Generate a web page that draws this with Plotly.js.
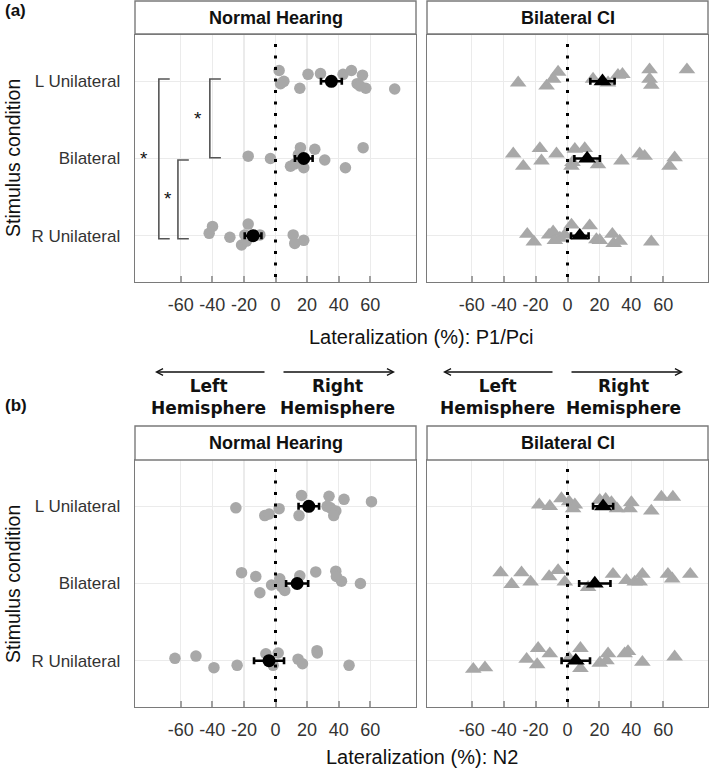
<!DOCTYPE html>
<html>
<head>
<meta charset="utf-8">
<script src="https://cdn.plot.ly/plotly-3.0.1.min.js"></script>
<style>html,body{margin:0;padding:0;background:#fff;}#chart{width:709px;height:768px;}</style>
</head>
<body>
<div id="chart"></div>
<script>
// ---- categories & tick labels ----
const conditions = ['R Unilateral', 'Bilateral', 'L Unilateral']; // y = 1,2,3
const xTickVals = [-60, -40, -20, 0, 20, 40, 60];
const xTickText = ['-60', '-40', '-20', '0', '20', '40', '60'];
const panels = ['Normal Hearing', 'Bilateral CI'];

// ---- individual subjects: [lateralization %, vertical jitter] ----
// P1/Pci, Normal Hearing
const p1NH_L = [[2.3,0.14],[5.3,0],[3.2,-0.03],[15.4,-0.09],[20.6,0.09],[28.5,0.10],[42.8,0.09],[48.1,0.14],[55.1,0.08],[51.7,-0.03],[57.2,-0.09],[53.5,-0.06],[75.5,-0.10]];
const p1NH_B = [[-17.3,0.03],[-3.2,0],[15.8,0.14],[24.9,0.12],[9.5,-0.10],[12.2,-0.07],[17.9,-0.12],[31.2,-0.02],[44.3,-0.12],[55.5,0.14],[14.5,0.05]];
const p1NH_R = [[-39.9,0.12],[-42,0.03],[-28.9,-0.02],[-17.3,0.15],[-19.4,0.01],[-21.5,-0.12],[-18.4,-0.07],[-9.9,0.01],[11.2,0.01],[12.2,-0.10],[17.9,-0.06]];
// P1/Pci, Bilateral CI
const p1CI_L = [[-30.9,-0.02],[-13.1,-0.06],[-9,0.03],[-5.9,0.12],[16,0.03],[25.4,-0.02],[31.6,0.08],[34.4,0.09],[51.4,0.15],[51.4,0.03],[52.5,-0.05],[74.8,0.15]];
const p1CI_B = [[-34,0.06],[-27.7,-0.10],[-17.3,0.13],[-16.3,-0.03],[-6.9,0.06],[4.6,0.12],[2.5,-0.10],[3.1,-0.05],[10.8,0.13],[19.1,-0.08],[33.8,-0.03],[45.2,0.06],[48.3,0.03],[67.1,0.01],[63.9,-0.10]];
const p1CI_R = [[-25.2,0.02],[-21.1,-0.08],[-11.5,0.01],[-9,0.05],[-7.9,-0.06],[-4.8,-0.03],[-1.7,0.01],[2.5,0.14],[13.9,0.13],[18.1,-0.05],[20.2,-0.06],[28.1,0.02],[28.9,-0.10],[32.7,-0.07],[52.5,-0.08]];
// N2, Normal Hearing
const n2NH_L = [[-25.1,-0.02],[-6.8,-0.12],[-4,-0.10],[2.3,-0.03],[16.5,0.14],[14.9,-0.12],[33.9,0.13],[32.7,0],[34.8,-0.02],[38.2,-0.06],[36.9,-0.12],[43.4,0.09],[60.8,0.06]];
const n2NH_B = [[-21.5,0.14],[-12.5,0.09],[-9.9,-0.12],[-2.5,-0.02],[2.7,0.06],[5.9,-0.09],[3.8,-0.04],[15.4,0.10],[25.5,0.15],[38.2,0.16],[38.6,0.09],[41.8,0.03],[53.8,0]];
const n2NH_R = [[-63.7,0.03],[-50.4,0.06],[-39,-0.09],[-24.3,-0.06],[-6.1,0.09],[-1.5,-0.06],[1.7,0.10],[14.3,0.02],[17.1,-0.04],[26.3,0.13],[26.5,0.10],[46.6,-0.06]];
// N2, Bilateral CI
const n2CI_L = [[-17.7,0.02],[-11.1,0],[-3.8,0.10],[1,0.06],[4.6,0.02],[3.5,-0.03],[20.2,0.08],[23.9,0.09],[27.5,0.05],[31,-0.03],[38.9,-0.03],[40,0.05],[52.5,-0.06],[58.8,0.12],[66,0.12]];
const n2CI_B = [[-41.9,0.14],[-35,-0.01],[-28.8,0.14],[-23.1,0.02],[-11.5,0.09],[-5.9,0.17],[-1.7,0.02],[12.9,-0.05],[28.5,0.12],[36.9,0.04],[42.1,0.02],[45.2,0.02],[46.9,0.12],[62.9,0.12],[65.6,0.06],[76.9,0.12]];
const n2CI_R = [[-59,-0.11],[-51.7,-0.09],[-25.6,0.02],[-18.4,0.16],[-19,-0.05],[-11.1,0.09],[1,0.03],[8.1,0.16],[8.1,-0.10],[20.2,-0.03],[25.4,0.09],[24.4,0],[35.8,0.09],[37.9,0.12],[46.9,-0.02],[67.1,0.05]];

// ---- group means and standard errors (order: R Unilateral, Bilateral, L Unilateral) ----
const p1NH_mean = [-14.2, 17.9, 35.4], p1NH_se = [5.3, 5.6, 6.6];
const p1CI_mean = [7.7, 12.3, 21.9],   p1CI_se = [5.5, 8.0, 7.6];
const n2NH_mean = [-4.1, 13.7, 21.1],  n2NH_se = [9.5, 7.0, 6.5];
const n2CI_mean = [5.2, 17.1, 22.3],   n2CI_se = [8.9, 9.8, 6.3];

// ---- build traces ----
const traces = [];
function addPanel(rows, means, ses, xa, ya, symbol) {
  const xs = [], ys = [];
  rows.forEach((row, i) => {
    row.forEach(p => { xs.push(p[0]); ys.push(i + 1 + p[1]); });
  });
  const tri = symbol !== 'circle';
  traces.push({
    type: 'scatter', mode: 'markers', x: xs, y: ys, xaxis: xa, yaxis: ya,
    marker: {symbol: symbol, size: tri ? 14.5 : 11.5, color: '#a8a8a8', line: {width: 0}},
    hoverinfo: 'x', showlegend: false
  });
  traces.push({
    type: 'scatter', mode: 'markers', x: means, y: [1, 2, 3], xaxis: xa, yaxis: ya,
    marker: {symbol: symbol, size: tri ? 15.5 : 13, color: '#000', line: {width: 0}},
    error_x: {type: 'data', array: ses, visible: true, color: '#000', thickness: 2.6, width: 3.5},
    hoverinfo: 'x', showlegend: false
  });
}
addPanel([p1NH_R, p1NH_B, p1NH_L], p1NH_mean, p1NH_se, 'x', 'y', 'circle');
addPanel([p1CI_R, p1CI_B, p1CI_L], p1CI_mean, p1CI_se, 'x2', 'y2', 'triangle-up');
addPanel([n2NH_R, n2NH_B, n2NH_L], n2NH_mean, n2NH_se, 'x3', 'y3', 'circle');
addPanel([n2CI_R, n2CI_B, n2CI_L], n2CI_mean, n2CI_se, 'x4', 'y4', 'triangle-up');

// ---- layout helpers ----
const W = 709, H = 768;
const px = v => v / W, py = v => 1 - v / H;
const FONT = 'Liberation Sans, Arial, sans-serif';
const BORDER = '#7a7a7a';

function xAxis(domain, anchor, range) {
  return {
    domain: domain, anchor: anchor, range: range, tickvals: xTickVals, ticktext: xTickText,
    showgrid: true, gridcolor: '#ebebeb', gridwidth: 1.2, zeroline: false,
    showline: true, linecolor: BORDER, linewidth: 1.4, mirror: true,
    ticks: 'inside', ticklen: 6, tickwidth: 2, tickcolor: '#a0a0a0',
    ticklabelstandoff: 6, tickfont: {family: FONT, size: 18, color: '#333'}, fixedrange: true
  };
}
function yAxis(domain, anchor, labels) {
  return {
    domain: domain, anchor: anchor, range: [0.4, 3.6], tickvals: [1, 2, 3], ticktext: conditions,
    showticklabels: labels, showgrid: true, gridcolor: '#ebebeb', gridwidth: 1.2, zeroline: false,
    showline: true, linecolor: BORDER, linewidth: 1.4, mirror: true, ticks: '',
    ticklabelstandoff: 10, tickfont: {family: FONT, size: 17, color: '#333'}, fixedrange: true
  };
}
const xdNH = [px(135), px(416)], xdCI = [px(427), px(708)];
const ydTop = [py(282), py(35)], ydBot = [py(707), py(460)];

const shapes = [];
// strips
[[135, 416, 1, 34], [427, 708, 1, 34], [135, 416, 426, 460], [427, 708, 426, 460]].forEach(s => {
  shapes.push({type: 'rect', xref: 'paper', yref: 'paper', x0: px(s[0]), x1: px(s[1]), y0: py(s[3]), y1: py(s[2]),
    fillcolor: '#fff', line: {color: BORDER, width: 1.4}});
});
// dotted zero lines
[['x', 'y'], ['x2', 'y2'], ['x3', 'y3'], ['x4', 'y4']].forEach(a => {
  shapes.push({type: 'line', xref: a[0], yref: a[1] + ' domain', x0: 0, x1: 0, y0: 0.02, y1: 0.98,
    line: {color: '#000', width: 3, dash: '3px,8.5px'}, layer: 'above'});
});
// significance brackets (top NH panel)
[[-41.6, -34.6, 3.03, 2.01], [-61.8, -54.9, 1.98, 0.96], [-73.9, -67.0, 3.03, 0.96]].forEach(b => {
  shapes.push({type: 'path', xref: 'x', yref: 'y',
    path: `M${b[1]},${b[2]} H${b[0]} V${b[3]} H${b[1]}`, line: {color: '#555', width: 1.6}});
});

const ann = [];
const addText = (text, x, y, size, opts) => ann.push(Object.assign({text: text, x: x, y: y, xref: 'paper', yref: 'paper',
  xanchor: 'center', yanchor: 'middle', showarrow: false, font: {family: FONT, size: size, color: '#111'}}, opts || {}));
addText('<b>(a)</b>', px(3), py(11), 17, {xanchor: 'left'});
addText('<b>(b)</b>', px(3), py(405), 17, {xanchor: 'left'});
addText('<b>' + panels[0] + '</b>', px(275.5), py(17.5), 18);
addText('<b>' + panels[1] + '</b>', px(567.5), py(17.5), 18);
addText('<b>' + panels[0] + '</b>', px(275.5), py(443), 18);
addText('<b>' + panels[1] + '</b>', px(567.5), py(443), 18);
addText('Lateralization (%): P1/Pci', px(421.5), py(337), 20);
addText('Lateralization (%): N2', px(421.5), py(757), 20);
addText('Stimulus condition', px(13), py(158), 19.5, {textangle: -90});
addText('Stimulus condition', px(13), py(584), 19.5, {textangle: -90});
// stars
[[-49, 2.52], [-68, 1.48], [-83, 2.0]].forEach(s => ann.push({text: '*', x: s[0], y: s[1], xref: 'x', yref: 'y',
  xanchor: 'center', yanchor: 'middle', showarrow: false, font: {family: FONT, size: 19, color: '#111'}}));
// hemisphere labels & arrows
const HF = {family: 'DejaVu Sans, Verdana, sans-serif', size: 17, color: '#111'};
[[208, 'Left'], [337, 'Right'], [497, 'Left'], [623, 'Right']].forEach(h => {
  ann.push({text: '<b>' + h[1] + '<br>Hemisphere</b>', x: px(h[0]), y: py(396.5), xref: 'paper', yref: 'paper',
    xanchor: 'center', yanchor: 'middle', showarrow: false, font: HF});
});
[[155, 111], [395, -113], [443, 111], [683, -113]].forEach(a => {
  ann.push({text: '', x: px(a[0]), y: py(372), xref: 'paper', yref: 'paper', showarrow: true,
    ax: a[1], ay: 0, arrowhead: 5, arrowsize: 1, arrowwidth: 1.3, arrowcolor: '#111', standoff: 0});
});

const layout = {
  width: W, height: H, margin: {l: 0, r: 0, t: 0, b: 0},
  paper_bgcolor: '#fff', plot_bgcolor: '#fff', showlegend: false,
  font: {family: FONT},
  xaxis: xAxis(xdNH, 'y', [-89, 89]), yaxis: yAxis(ydTop, 'x', true),
  xaxis2: xAxis(xdCI, 'y2', [-88, 88]), yaxis2: yAxis(ydTop, 'x2', false),
  xaxis3: xAxis(xdNH, 'y3', [-89, 89]), yaxis3: yAxis(ydBot, 'x3', true),
  xaxis4: xAxis(xdCI, 'y4', [-88, 88]), yaxis4: yAxis(ydBot, 'x4', false),
  shapes: shapes, annotations: ann
};
Plotly.newPlot('chart', traces, layout, {displayModeBar: false, staticPlot: true});
</script>
</body>
</html>
